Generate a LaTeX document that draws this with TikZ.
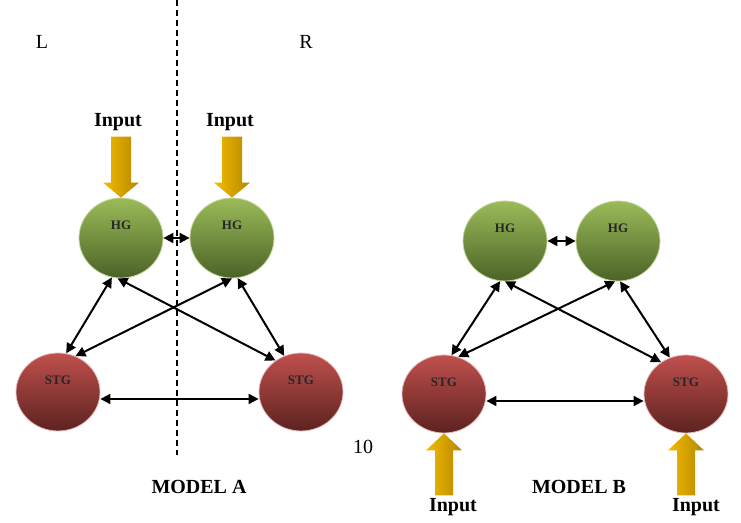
\documentclass[tikz,border=0pt]{standalone}
\usepackage{fontspec}
\setmainfont{Liberation Serif}
\usetikzlibrary{arrows.meta,shapes.geometric}

\definecolor{hgtop}{HTML}{9BBB59}
\definecolor{hgbot}{HTML}{4B6327}
\definecolor{hgrim}{HTML}{C3D69B}
\definecolor{stgtop}{HTML}{C0504D}
\definecolor{stgbot}{HTML}{5C2220}
\definecolor{stgrim}{HTML}{E6B9B8}
\definecolor{goldlight}{HTML}{F2BC00}
\definecolor{golddark}{HTML}{B58600}

% input arrows, tip at the given point
\newcommand{\inputdown}[1]{\shade[inarrow] (#1) -- ++(18,-15) -- ++(-8,0) -- ++(0,-46) -- ++(-20,0) -- ++(0,46) -- ++(-8,0) -- cycle;}
\newcommand{\inputup}[1]{\shade[inarrow] (#1) -- ++(18,17) -- ++(-9,0) -- ++(0,45) -- ++(-18,0) -- ++(0,-45) -- ++(-9,0) -- cycle;}

\begin{document}
\begin{tikzpicture}[x=0.5pt, y=-0.5pt,
    hg/.style={ellipse, draw=hgrim, line width=0.4pt, top color=hgtop, bottom color=hgbot, minimum width=42pt, minimum height=40pt, inner sep=0pt},
    stg/.style={ellipse, draw=stgrim, line width=0.4pt, top color=stgtop, bottom color=stgbot, minimum width=42pt, minimum height=39pt, inner sep=0pt},
    tag/.style={font=\bfseries\fontsize{6.5}{7}\selectfont, text=black!85, inner sep=0pt},
    link/.style={{Triangle[length=5pt,width=5pt]}-{Triangle[length=5pt,width=5pt]}, line width=1pt},
    inarrow/.style={left color=goldlight, right color=golddark},
    big/.style={font=\bfseries\fontsize{10}{12}\selectfont, inner sep=0pt},
    plain/.style={font=\fontsize{10}{12}\selectfont, inner sep=0pt}]
    \useasboundingbox (0,0) rectangle (741,523);
    \draw[line width=0.7pt, dash pattern=on 3pt off 2pt] (177,0) -- (177,455);
    % model A
    \node[hg] (hgAL) at (121,238) {};
    \node[hg] (hgAR) at (232,238) {};
    \node[stg] (stgAL) at (58,392) {};
    \node[stg] (stgAR) at (301,392) {};
    \node[tag] (tAL) at ([yshift=6.5pt]hgAL.center) {HG};
    \node[tag] (tAR) at ([yshift=6.5pt]hgAR.center) {HG};
    \node[tag] (tSL) at ([yshift=6pt]stgAL.center) {STG};
    \node[tag] (tSR) at ([yshift=6pt]stgAR.center) {STG};
    \inputdown{hgAL.north}
    \inputdown{hgAR.north}
    \node[big] (inAL) at (118,122) {Input};
    \node[big] (inAR) at (230,122) {Input};
    \draw[link] (hgAL) -- (hgAR);
    \draw[link] ([yshift=-3.5pt]stgAL.east) -- ([yshift=-3.5pt]stgAR.west);
    \draw[link] (hgAL.257) -- (stgAL.78);
    \draw[link] (hgAL.265) -- (stgAR.129);
    \draw[link] (hgAR.270) -- (stgAL.64);
    \draw[link] (hgAR.278) -- (stgAR.115);
    % model B
    \node[hg] (hgBL) at (505,241) {};
    \node[hg] (hgBR) at (618,241) {};
    \node[stg] (stgBL) at (444,394) {};
    \node[stg] (stgBR) at (686,394) {};
    \node[tag] (tBL) at ([yshift=6.5pt]hgBL.center) {HG};
    \node[tag] (tBR) at ([yshift=6.5pt]hgBR.center) {HG};
    \node[tag] (uSL) at ([yshift=6pt]stgBL.center) {STG};
    \node[tag] (uSR) at ([yshift=6pt]stgBR.center) {STG};
    \inputup{stgBL.south}
    \inputup{stgBR.south}
    \node[big] (inBL) at (453,507) {Input};
    \node[big] (inBR) at (696,507) {Input};
    \draw[link] (hgBL) -- (hgBR);
    \draw[link] ([yshift=-3.5pt]stgBL.east) -- ([yshift=-3.5pt]stgBR.west);
    \draw[link] (hgBL.263) -- (stgBL.79);
    \draw[link] (hgBL.270) -- (stgBR.128);
    \draw[link] (hgBR.266) -- (stgBL.69);
    \draw[link] (hgBR.273) -- (stgBR.114);
    % labels
    \node[plain] (sideL) at (42,42) {L};
    \node[plain] (sideR) at (306,42) {R};
    \node[plain] (pageno) at (363,447) {10};
    \node[big] (modelA) at (199,487) {MODEL A};
    \node[big] (modelB) at (579,487) {MODEL B};
\end{tikzpicture}
\end{document}
